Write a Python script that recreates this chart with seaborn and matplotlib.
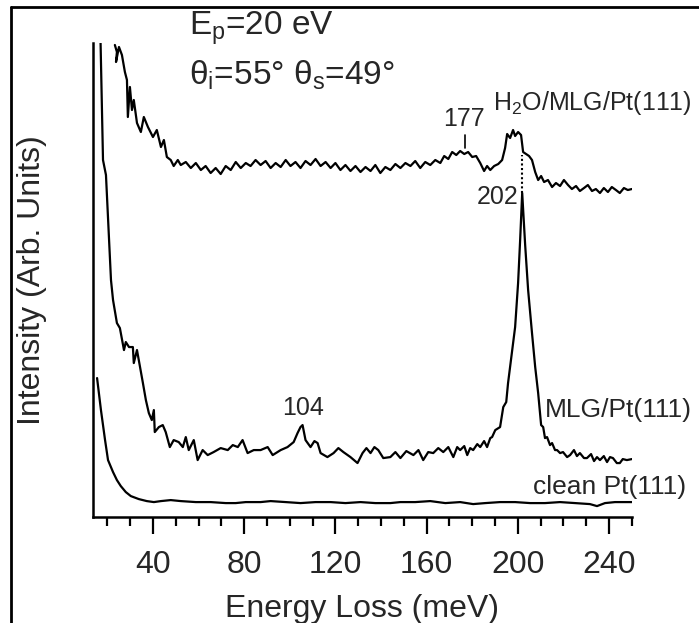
import matplotlib
matplotlib.use("Agg")
import matplotlib.pyplot as plt
from matplotlib.lines import Line2D
from matplotlib.ticker import MultipleLocator
import seaborn as sns

# energy loss (meV) and intensity (arb. units)
clean_E = [15.5, 17.2, 19.0, 20.3, 22.5, 24.2, 25.9, 28.1, 30.3, 33.8, 37.3, 40.4,
           43.5, 47.8, 52.2, 58.8, 65.3, 71.9, 76.3, 80.7, 87.2, 91.6, 98.2, 104.7,
           111.3, 117.9, 124.4, 131.0, 137.5, 144.1, 148.5, 155.0, 161.6, 168.2,
           174.7, 180.4, 185.7, 192.2, 198.8, 205.4, 211.9, 218.5, 225.1, 231.6,
           234.7, 238.2, 242.6, 250.0]
clean_I = [1.39, 1.07, 0.77, 0.57, 0.45, 0.37, 0.31, 0.25, 0.21, 0.18, 0.16, 0.15,
           0.16, 0.17, 0.16, 0.15, 0.15, 0.14, 0.14, 0.15, 0.15, 0.16, 0.15, 0.14,
           0.15, 0.15, 0.14, 0.15, 0.14, 0.14, 0.15, 0.15, 0.16, 0.14,
           0.15, 0.13, 0.14, 0.15, 0.15, 0.14, 0.14, 0.15, 0.14, 0.13,
           0.11, 0.14, 0.15, 0.15]

mlg_E = [16.8, 18.1, 19.4, 21.6, 22.5, 24.2, 25.5, 27.3, 28.1, 29.5, 31.2, 31.6,
         33.0, 33.8, 35.6, 36.9, 38.2, 39.5, 40.4, 40.8, 42.6, 44.3, 45.6, 47.4,
         49.1, 51.3, 53.1, 54.4, 55.7, 57.9, 59.6, 61.8, 64.0, 66.6, 69.7, 72.8,
         75.0, 77.2, 79.3, 81.5, 84.2, 87.2, 90.3, 92.5, 96.0, 99.0, 101.7, 103.4,
         104.7, 105.6, 106.9, 109.1, 110.8, 112.2, 113.5, 116.5, 119.2, 121.3,
         123.5, 126.6, 129.7, 131.9, 133.6, 135.4, 137.1, 138.8, 141.0, 144.1,
         146.3, 148.5, 151.1, 154.2, 156.4, 158.5, 160.7, 162.9, 165.1, 167.3,
         169.5, 171.7, 173.4, 174.7, 176.5, 177.8, 179.1, 180.4, 182.2, 183.5,
         185.2, 186.5, 187.9, 188.7, 190.1, 192.2, 193.6, 194.9, 195.7, 197.5,
         198.8, 200.1, 201.0, 201.9, 203.2, 204.5, 206.2, 207.6, 208.9, 210.2,
         211.1, 211.9, 212.8, 214.1, 215.0, 216.3, 217.2, 218.5, 219.8, 221.6,
         222.9, 224.6, 225.9, 227.2, 229.0, 230.3, 232.1, 233.4, 234.7, 236.0,
         237.7, 239.1, 240.4, 241.7, 243.4, 244.7, 246.0, 247.8, 250.0]
mlg_I = [5.00, 3.57, 3.42, 2.37, 2.17, 1.94, 1.89, 1.67, 1.75, 1.70, 1.70, 1.54,
         1.67, 1.57, 1.34, 1.17, 1.04, 0.97, 1.07, 0.85, 0.90, 0.92, 0.85, 0.70,
         0.77, 0.75, 0.70, 0.80, 0.67, 0.77, 0.57, 0.67, 0.62, 0.65, 0.69, 0.67,
         0.72, 0.70, 0.77, 0.64, 0.67, 0.67, 0.70, 0.62, 0.67, 0.70, 0.75, 0.84,
         0.90, 0.92, 0.77, 0.70, 0.76, 0.74, 0.64, 0.60, 0.64, 0.69,
         0.65, 0.60, 0.54, 0.64, 0.69, 0.64, 0.70, 0.67, 0.59, 0.60,
         0.65, 0.59, 0.66, 0.62, 0.67, 0.57, 0.65, 0.64, 0.69, 0.65,
         0.70, 0.60, 0.70, 0.67, 0.71, 0.62, 0.69, 0.67, 0.73, 0.70,
         0.76, 0.70, 0.79, 0.80, 0.87, 0.90, 1.10, 1.15, 1.34, 1.67,
         1.90, 2.34, 2.77, 3.24, 2.72, 2.27, 1.84, 1.50, 1.24, 0.92,
         0.90, 0.79, 0.80, 0.72, 0.74, 0.67, 0.67, 0.64, 0.65, 0.60,
         0.62, 0.67, 0.61, 0.64, 0.59, 0.59, 0.63, 0.56, 0.60, 0.57,
         0.61, 0.55, 0.60, 0.59, 0.54, 0.54, 0.58, 0.57, 0.58]

h2o_E = [23.3, 24.2, 23.8, 25.1, 26.4, 27.7, 28.6, 29.0, 29.9, 30.8, 31.6, 33.0,
         34.7, 36.0, 37.8, 40.0, 41.7, 43.5, 44.8, 46.1, 47.8, 49.1, 50.9, 52.2,
         54.4, 56.6, 58.8, 61.0, 63.1, 65.3, 67.5, 69.7, 71.9, 74.1, 76.3, 78.5,
         80.7, 82.8, 85.0, 87.2, 89.4, 91.6, 93.8, 96.0, 98.2, 100.3, 102.5, 104.7,
         106.9, 109.1, 111.3, 113.5, 115.7, 117.9, 120.0, 122.2, 124.4, 126.6,
         128.8, 131.0, 133.2, 135.4, 137.5, 139.7, 141.9, 144.1, 146.3, 148.5,
         150.7, 152.9, 155.0, 157.2, 159.4, 161.6, 163.8, 166.0, 167.7, 169.5,
         171.2, 173.0, 174.7, 176.5, 178.2, 180.0, 181.7, 183.5, 185.2, 186.5,
         187.9, 189.6, 191.4, 193.1, 194.4, 195.3, 196.6, 197.9, 198.8, 200.1,
         201.4, 202.3, 203.6, 204.9, 206.2, 207.6, 208.9, 210.2, 211.5, 213.2,
         215.0, 216.7, 218.5, 220.2, 222.0, 223.7, 225.5, 227.2, 229.0, 230.7,
         232.5, 234.2, 236.0, 237.7, 239.5, 241.2, 243.0, 244.7, 246.5, 248.2, 250.0]
h2o_I = [4.72, 4.65, 4.55, 4.70, 4.62, 4.45, 4.37, 4.00, 4.30, 4.07, 4.17, 3.94,
         3.85, 4.00, 3.90, 3.80, 3.87, 3.70, 3.77, 3.60, 3.57, 3.51, 3.57, 3.52,
         3.55, 3.49, 3.54, 3.47, 3.51, 3.44, 3.49, 3.43, 3.51, 3.47, 3.55, 3.49,
         3.54, 3.51, 3.57, 3.52, 3.56, 3.49, 3.54, 3.50, 3.57, 3.51, 3.55, 3.49,
         3.56, 3.52, 3.58, 3.51, 3.55, 3.49, 3.54, 3.47, 3.52, 3.46,
         3.51, 3.45, 3.50, 3.46, 3.52, 3.44, 3.50, 3.47, 3.53, 3.49,
         3.54, 3.51, 3.56, 3.49, 3.55, 3.52, 3.57, 3.54, 3.61, 3.58,
         3.65, 3.62, 3.66, 3.63, 3.65, 3.60, 3.61, 3.54, 3.46, 3.51,
         3.47, 3.51, 3.53, 3.57, 3.69, 3.83, 3.79, 3.87, 3.81, 3.85,
         3.82, 3.65, 3.63, 3.61, 3.57, 3.45, 3.37, 3.41, 3.35, 3.37,
         3.30, 3.34, 3.31, 3.37, 3.32, 3.28, 3.31, 3.26, 3.29, 3.32,
         3.26, 3.28, 3.24, 3.29, 3.25, 3.30, 3.27, 3.24, 3.29, 3.27, 3.28]

# peak marks
tick_177 = (176.9, 3.69, 3.82)
dots_202 = (202.0, 3.24, 3.62)

sns.set_style("ticks")
plt.rcParams['font.family'] = ['Liberation Sans', 'DejaVu Sans']
plt.rcParams['mathtext.fontset'] = 'custom'
plt.rcParams['mathtext.rm'] = 'Liberation Sans'
plt.rcParams['mathtext.it'] = 'Liberation Sans'
plt.rcParams['mathtext.default'] = 'regular'

fig = plt.figure(figsize=(6.99, 6.23), dpi=100)
ax = fig.add_axes([0.133, 0.170, 0.771, 0.761])

for E, I in [(clean_E, clean_I), (mlg_E, mlg_I), (h2o_E, h2o_I)]:
    sns.lineplot(x=E, y=I, ax=ax, color='black', lw=1.6, estimator=None, sort=False)

ax.plot([tick_177[0]] * 2, tick_177[1:], color='black', lw=1.2)
ax.plot([dots_202[0]] * 2, dots_202[1:], color='black', lw=1.5, ls=(0, (1, 1.2)))

ax.set_xlim(13.7, 250)
ax.set_ylim(0, 4.74)
ax.xaxis.set_major_locator(MultipleLocator(40))
ax.xaxis.set_minor_locator(MultipleLocator(10))
ax.set_yticks([])
ax.tick_params(axis='x', which='major', length=12, width=1.6, labelsize=23, pad=11.5, color='black')
ax.tick_params(axis='x', which='minor', length=6.5, width=1.6, color='black')
for s in ['top', 'right']:
    ax.spines[s].set_visible(False)
for s in ['left', 'bottom']:
    ax.spines[s].set_linewidth(1.8)
    ax.spines[s].set_color('black')

ax.set_xlabel('Energy Loss (meV)', fontsize=23, labelpad=10)
ax.set_ylabel('Intensity (Arb. Units)', fontsize=23, labelpad=33)

ax.text(55.7, 4.82, 'E$_p$=20 eV', fontsize=24, va='baseline', ha='left')
ax.text(55.7, 4.32, 'θ$_i$=55° θ$_s$=49°', fontsize=24, va='baseline', ha='left')
ax.text(189.2, 4.14, 'H$_2$O/MLG/Pt(111)', fontsize=18, va='center', ha='left')
ax.text(176.5, 3.98, '177', fontsize=18, va='center', ha='center')
ax.text(200.1, 3.20, '202', fontsize=18, va='center', ha='right')
ax.text(106.0, 1.09, '104', fontsize=18, va='center', ha='center')
ax.text(211.9, 1.07, 'MLG/Pt(111)', fontsize=19, va='center', ha='left')
ax.text(206.7, 0.30, 'clean Pt(111)', fontsize=19, va='center', ha='left')

# outer frame (top and left edges only)
fig.add_artist(Line2D([11 / 699, 1], [1 - 7 / 623] * 2, transform=fig.transFigure, color='black', lw=2))
fig.add_artist(Line2D([11 / 699] * 2, [0, 1 - 7 / 623], transform=fig.transFigure, color='black', lw=2))

fig.savefig('out.png', dpi=100)
